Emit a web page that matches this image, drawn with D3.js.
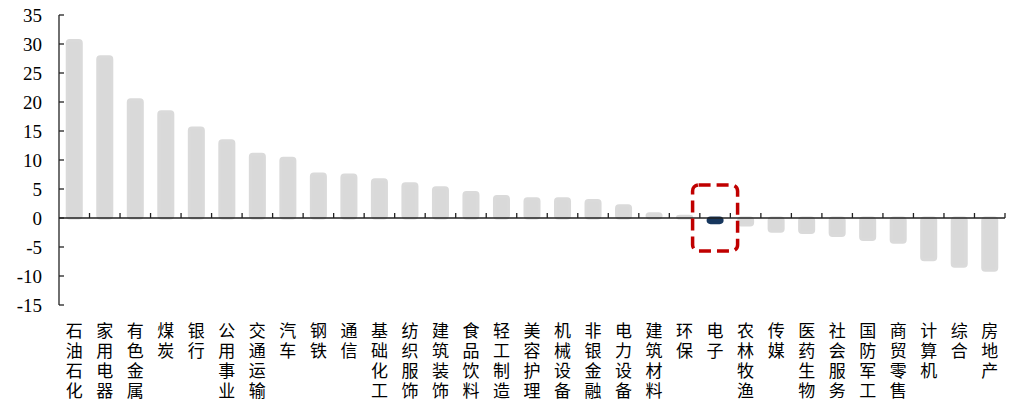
<!DOCTYPE html>
<html><head><meta charset="utf-8">
<script src="https://cdn.jsdelivr.net/npm/d3@7/dist/d3.min.js"></script>
<style>body{margin:0;background:#fff;} svg{display:block;}</style>
</head><body>
<svg id="c" width="1014" height="405"></svg>
<script>
const categories = ["石油石化","家用电器","有色金属","煤炭","银行","公用事业","交通运输","汽车","钢铁","通信","基础化工","纺织服饰","建筑装饰","食品饮料","轻工制造","美容护理","机械设备","非银金融","电力设备","建筑材料","环保","电子","农林牧渔","传媒","医药生物","社会服务","国防军工","商贸零售","计算机","综合","房地产"];
const values = [30.6,27.8,20.4,18.3,15.5,13.3,11.0,10.3,7.6,7.4,6.6,5.9,5.2,4.4,3.7,3.3,3.3,3.0,2.1,0.75,0.3,-0.8,-1.2,-2.3,-2.5,-3.0,-3.7,-4.2,-7.2,-8.3,-9.0];
const yTicks = [35,30,25,20,15,10,5,0,-5,-10,-15];
const highlight = "电子";

const svg = d3.select("#c");
const x = d3.scaleBand().domain(categories).range([59,1005]).paddingInner(0.54).paddingOuter(0.27);
const y = d3.scaleLinear().domain([-15,35]).range([305,15]);

// bars
svg.append("g").selectAll("rect").data(categories).join("rect")
  .attr("x", d => x(d))
  .attr("width", x.bandwidth())
  .attr("y", (d,i) => y(Math.max(0, values[i])))
  .attr("height", (d,i) => Math.abs(y(values[i]) - y(0)))
  .attr("rx", 2.5)
  .attr("fill", d => d === highlight ? "#17375e" : "#d9d9d9")
  .attr("stroke", d => d === highlight ? "#17375e" : "#dadada")
  .attr("stroke-width", 3)
  .attr("stroke-linejoin", "round");

// x axis line at 0
const step = x.step();
svg.append("line").attr("x1",59).attr("x2",1005).attr("y1",y(0)).attr("y2",y(0))
  .attr("stroke","#222").attr("stroke-width",1.3);
svg.append("g").selectAll("line").data(d3.range(1, categories.length+1)).join("line")
  .attr("x1", i => 59 + step*i).attr("x2", i => 59 + step*i)
  .attr("y1", y(0)).attr("y2", y(0)-5)
  .attr("stroke","#222").attr("stroke-width",1.3);

// y axis
const ya = svg.append("g");
ya.append("line").attr("x1",59).attr("x2",59).attr("y1",y(35)).attr("y2",y(-15)).attr("stroke","#222").attr("stroke-width",1.3);
ya.selectAll("line.t").data(yTicks).join("line").attr("class","t")
  .attr("x1",59).attr("x2",64).attr("y1",d=>y(d)).attr("y2",d=>y(d))
  .attr("stroke","#222").attr("stroke-width",1.3);
ya.selectAll("text").data(yTicks).join("text")
  .attr("x",42).attr("y",d=>y(d)).attr("dy","0.35em")
  .attr("text-anchor","end")
  .attr("font-family","'Liberation Serif', 'Times New Roman', serif")
  .attr("font-size",19).attr("fill","#000")
  .text(d=>d);

// category labels, vertical writing
svg.append("g").selectAll("text").data(categories).join("text")
  .attr("x", d => x(d) + x.bandwidth()/2)
  .attr("y", 322)
  .attr("style", "writing-mode: vertical-rl; text-orientation: upright; letter-spacing: 3px;")
  .attr("font-family","'Noto Sans CJK SC', sans-serif")
  .attr("font-size",17).attr("fill","#000")
  .text(d => d);

// highlight box
const hx = x(highlight) + x.bandwidth()/2;
svg.append("rect")
  .attr("x", hx - 22.5).attr("y", 185).attr("width", 45).attr("height", 66)
  .attr("rx", 6)
  .attr("fill","none").attr("stroke","#c00000").attr("stroke-width",3.5)
  .attr("stroke-dasharray","12,6");
</script>
</body></html>
